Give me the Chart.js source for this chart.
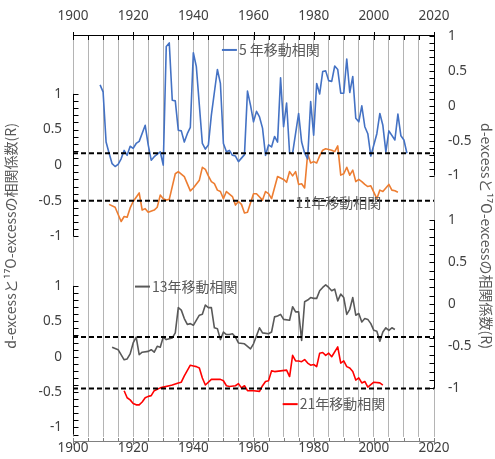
<!DOCTYPE html>
<html><head><meta charset="utf-8">
<script src="https://cdn.jsdelivr.net/npm/chart.js@4.4.0/dist/chart.umd.min.js"></script>
<style>html,body{margin:0;padding:0;background:#fff;}</style>
</head><body>
<canvas id="c" width="495" height="459" style="display:block;width:495px;height:459px"></canvas>
<script>
// ---------------- DATA ----------------
const years5 = [1909,1910,1911,1912,1913,1914,1915,1916,1917,1918,1919,1920,1921,1922,1924,1925,1926,1927,1929,1930,1931,1932,1933,1934,1935,1936,1937,1938,1939,1940,1941,1942,1943,1944,1945,1946,1948,1949,1950,1951,1952,1953,1954,1955,1957,1958,1959,1960,1961,1962,1963,1964,1965,1966,1967,1968,1969,1970,1971,1972,1973,1975,1976,1977,1978,1979,1980,1981,1982,1983,1984,1985,1986,1987,1988,1989,1990,1991,1992,1993,1994,1995,1996,1997,1998,1999,2001,2002,2003,2004,2005,2007,2008,2009,2010,2011];
const r5 = [0.30,0.20,-0.52,-0.68,-0.83,-0.87,-0.84,-0.76,-0.64,-0.71,-0.58,-0.61,-0.54,-0.51,-0.28,-0.56,-0.78,-0.73,-0.66,-0.85,0.85,0.90,0.08,0.07,-0.35,-0.36,-0.52,-0.40,-0.31,0.76,0.56,0.01,-0.54,-0.62,-0.56,-0.13,0.52,0.32,-0.54,-0.66,-0.64,-0.71,-0.72,-0.80,-0.70,0.21,0.01,-0.23,-0.08,-0.16,-0.32,-0.71,-0.56,-0.59,-0.44,-0.52,0.40,-0.30,0.04,-0.68,-0.68,-0.11,-0.52,-0.68,-0.76,0.06,-0.42,0.32,0.17,0.49,0.50,0.36,0.35,0.57,0.52,0.18,0.18,0.67,0.19,0.42,-0.18,-0.23,0.00,-0.30,-0.40,-0.72,-0.40,-0.11,-0.28,-0.66,-0.36,-0.49,-0.12,-0.43,-0.49,-0.68];

const years11 = [1912,1914,1916,1917,1918,1919,1920,1922,1923,1924,1925,1927,1928,1929,1930,1931,1932,1934,1935,1937,1939,1940,1942,1943,1944,1945,1946,1947,1948,1949,1950,1951,1953,1954,1955,1956,1957,1958,1959,1960,1961,1963,1964,1965,1966,1968,1970,1971,1972,1973,1974,1975,1976,1977,1978,1979,1980,1981,1982,1983,1984,1986,1987,1988,1989,1990,1991,1992,1993,1994,1995,1996,1997,1998,1999,2001,2002,2003,2004,2005,2006,2007,2008];
const r11 = [-0.55,-0.59,-0.79,-0.72,-0.73,-0.60,-0.51,-0.39,-0.63,-0.61,-0.66,-0.63,-0.59,-0.42,-0.47,-0.49,-0.48,-0.12,-0.09,-0.16,-0.36,-0.32,-0.21,-0.03,-0.06,-0.15,-0.23,-0.26,-0.35,-0.37,-0.47,-0.37,-0.44,-0.56,-0.51,-0.55,-0.67,-0.66,-0.53,-0.40,-0.40,-0.49,-0.37,-0.40,-0.47,-0.16,-0.20,-0.24,-0.09,-0.15,-0.09,-0.27,-0.26,-0.32,0.16,0.03,0.05,0.03,0.13,0.21,0.23,0.21,0.19,0.27,-0.14,-0.12,-0.03,-0.14,-0.07,-0.23,-0.20,-0.23,-0.27,-0.30,-0.29,-0.47,-0.35,-0.37,-0.32,-0.27,-0.35,-0.36,-0.38];

const years13 = [1913,1915,1917,1918,1919,1920,1921,1922,1923,1925,1926,1927,1928,1929,1930,1931,1933,1934,1935,1936,1937,1938,1939,1940,1942,1943,1944,1945,1946,1947,1948,1949,1950,1951,1952,1953,1954,1955,1957,1959,1960,1962,1963,1965,1966,1967,1968,1969,1970,1972,1973,1974,1975,1976,1977,1978,1979,1980,1981,1982,1983,1984,1985,1986,1987,1988,1989,1990,1991,1992,1993,1994,1995,1996,1997,1998,1999,2000,2001,2002,2003,2004,2005,2006,2007];
const r13 = [-0.51,-0.54,-0.66,-0.65,-0.59,-0.46,-0.39,-0.60,-0.57,-0.56,-0.54,-0.57,-0.50,-0.51,-0.39,-0.42,-0.40,-0.34,-0.04,-0.07,-0.17,-0.24,-0.23,-0.25,-0.13,-0.12,-0.01,-0.04,-0.04,-0.28,-0.29,-0.42,-0.33,-0.36,-0.36,-0.35,-0.39,-0.46,-0.47,-0.53,-0.47,-0.28,-0.34,-0.35,-0.33,-0.15,-0.14,-0.12,-0.18,-0.19,-0.03,-0.09,-0.09,-0.43,0.03,0.05,0.08,0.07,0.07,0.16,0.20,0.23,0.20,0.16,0.18,0.04,0.12,0.08,-0.12,-0.06,0.08,-0.13,-0.11,-0.21,-0.17,-0.18,-0.23,-0.31,-0.32,-0.44,-0.33,-0.28,-0.31,-0.28,-0.30];

const years21 = [1917,1918,1919,1920,1921,1922,1923,1924,1925,1926,1927,1929,1930,1932,1933,1935,1936,1937,1939,1940,1941,1942,1943,1944,1946,1948,1949,1950,1951,1952,1954,1955,1956,1957,1958,1960,1962,1963,1964,1965,1966,1967,1969,1971,1972,1973,1974,1975,1976,1977,1978,1979,1980,1981,1982,1983,1984,1985,1986,1988,1989,1990,1991,1992,1993,1994,1995,1996,1997,1998,2000,2002,2003];
const r21 = [-0.48,-0.58,-0.61,-0.66,-0.68,-0.68,-0.64,-0.58,-0.56,-0.55,-0.48,-0.44,-0.43,-0.41,-0.40,-0.37,-0.36,-0.27,-0.12,-0.13,-0.14,-0.16,-0.30,-0.40,-0.32,-0.32,-0.32,-0.34,-0.41,-0.42,-0.41,-0.38,-0.44,-0.41,-0.48,-0.48,-0.49,-0.41,-0.35,-0.34,-0.20,-0.21,-0.20,-0.19,-0.28,0.02,-0.06,-0.06,-0.07,-0.04,-0.09,-0.12,-0.11,-0.14,0.05,0.06,0.02,0.05,0.00,0.14,-0.09,-0.06,-0.14,-0.16,-0.21,-0.33,-0.30,-0.37,-0.35,-0.43,-0.36,-0.37,-0.40];

// significance lines (value on each series' own axis)
const thresholds = {r5: -0.68, r11: -0.50, r13: -0.39, r21: -0.45};
const seriesNames = ['5 年移動相関','11年移動相関','13年移動相関','21年移動相関'];
const xTickValues = [1900,1920,1940,1960,1980,2000,2020];
const yTickValues = [1, 0.5, 0, -0.5, -1];
const yTickLabels = ['1','0.5','0','-0.5','-1'];
const axisTitle = 'd-excessと\u00B9\u2077O-excessの相関係数(R)';

// ---------------- LAYOUT ----------------
const W = 495, H = 459, T = 35, B = 441, L = 73, R = 434;
// pixel rows of +1 and -1 for each of the four value axes
const AX = { yLT:[94.5,238.5], yLB:[288.5,431.5], yRT:[36,177], yRB:[222,392] };
function rng(id){const [p1,m1]=AX[id];const k=(m1-p1)/2;return {min:-1-(B-m1)/k,max:1+(p1-T)/k};}
function pix(id,v){const [p1,m1]=AX[id];const k=(m1-p1)/2;return p1+(1-v)*k;}
function val(id,p){const [p1,m1]=AX[id];const k=(m1-p1)/2;return 1-(p-p1)/k;}
function crossTicks(main, other){
  const t=[];
  yTickValues.forEach((v,i)=>t.push({value:v,label:yTickLabels[i]}));
  yTickValues.forEach((v,i)=>t.push({value:val(main,pix(other,v)),label:yTickLabels[i]}));
  return t;
}
const leftTicks = crossTicks('yLT','yLB');
const rightTicks = crossTicks('yRT','yRB');

const pts = (xs,ys)=>xs.map((x,i)=>({x:x,y:ys[i]}));
const hline = v=>[{x:1900,y:v},{x:2020,y:v}];
const numFont = {family:'"Noto Sans", "Liberation Sans", sans-serif', size:13.5};
const jpFont = '"Noto Sans CJK JP", "Noto Sans", sans-serif';
const txtCol = '#404040';

const dashed = (id,v)=>({data:hline(v),yAxisID:id,borderColor:'#000',borderWidth:2,borderDash:[5,3],pointRadius:0,fill:false});
const line = (label,xs,ys,id,col)=>({label:label,data:pts(xs,ys),yAxisID:id,borderColor:col,borderWidth:1.6,pointRadius:0,fill:false,tension:0,borderJoinStyle:'round'});

// legends anchored in data coordinates
const legends = [
  {text:seriesNames[0], axis:'yRT', x:1949.5, y:0.80, color:'#4472C4', sample:true},
  {text:seriesNames[1], axis:'yLT', x:1974, y:-0.53, color:'#ED7D31', sample:false},
  {text:seriesNames[2], axis:'yRB', x:1920.6, y:0.21, color:'#595959', sample:true},
  {text:seriesNames[3], axis:'yLB', x:1969.7, y:-0.67, color:'#FF0000', sample:true}
];

const deco = {
  id:'deco',
  afterDatasetsDraw(chart){
    const ctx=chart.ctx, sx=chart.scales.x, s=chart.scales;
    ctx.save();
    // top axis
    ctx.strokeStyle='#000'; ctx.lineWidth=1;
    ctx.beginPath(); ctx.moveTo(sx.getPixelForValue(1900),T+0.5); ctx.lineTo(sx.getPixelForValue(2020),T+0.5);
    for(let v=1900; v<=2020; v+=5){const p=Math.round(sx.getPixelForValue(v))+0.5;const mj=v%20===0;ctx.moveTo(p,T-(mj?3:0));ctx.lineTo(p,T+5);}
    ctx.stroke();
    // bottom axis
    ctx.strokeStyle='#808080';
    ctx.beginPath(); ctx.moveTo(sx.getPixelForValue(1900),B+0.5); ctx.lineTo(sx.getPixelForValue(2020),B+0.5);
    for(let v=1900; v<=2020; v+=5){const p=Math.round(sx.getPixelForValue(v))+0.5;const mj=v%20===0;ctx.moveTo(p,B-3);ctx.lineTo(p,B+(mj?4:0));}
    ctx.stroke();
    // value axis segments
    const seg=(id,x,dir,from,to)=>{
      const sc=s[id]; ctx.strokeStyle='#000'; ctx.beginPath();
      ctx.moveTo(x,sc.getPixelForValue(from)); ctx.lineTo(x,sc.getPixelForValue(to));
      for(let i=Math.round(from*10); i>=Math.round(to*10); i--){const p=Math.round(sc.getPixelForValue(i/10))+0.5;ctx.moveTo(x,p);ctx.lineTo(x+dir*5,p);}
      ctx.stroke();
    };
    seg('yLT',L+0.5,1,1,-1);
    seg('yLB',L+0.5,1,1,-1.1);
    seg('yRT',R+0.5,-1,1,-1);
    seg('yRB',R+0.5,-1,1,-1);
    // legends
    ctx.font='14px '+jpFont; ctx.textBaseline='middle'; ctx.textAlign='left';
    legends.forEach(lg=>{
      const x=sx.getPixelForValue(lg.x), y=s[lg.axis].getPixelForValue(lg.y);
      let tx=x;
      if(lg.sample){ctx.strokeStyle=lg.color;ctx.lineWidth=2;ctx.beginPath();ctx.moveTo(x,y);ctx.lineTo(x+15,y);ctx.stroke();tx=x+17;}
      ctx.fillStyle='#595959'; ctx.fillText(lg.text,tx,y);
    });
    ctx.restore();
  }
};

const yAxisBase = (id,pos,display,ticks)=>{
  const o = {
    type:'linear', position:pos, display:display, min:rng(id).min, max:rng(id).max,
    grid:{display:false,drawTicks:false}, border:{display:false}
  };
  if(display){
    o.afterBuildTicks = sc=>{sc.ticks=ticks.map(t=>({value:t.value}));};
    o.ticks = {autoSkip:false, padding: pos==='left'?11:14, color:txtCol, font:numFont, callback:(v,i)=>ticks[i]?ticks[i].label:''};
    o.afterFit = sc=>{ sc.width = (pos==='left') ? L : W-R; };
    o.title = {display:true, text:axisTitle, color:'#595959', font:{family:jpFont,size:14}, padding:{top: pos==='left'?2:0, bottom:0}};
  }
  return o;
};

new Chart(document.getElementById('c'),{
  type:'line',
  data:{datasets:[
    dashed('yRT',thresholds.r5), dashed('yLT',thresholds.r11), dashed('yRB',thresholds.r13), dashed('yLB',thresholds.r21),
    line(seriesNames[0],years5,r5,'yRT','#4472C4'),
    line(seriesNames[1],years11,r11,'yLT','#ED7D31'),
    line(seriesNames[2],years13,r13,'yRB','#595959'),
    line(seriesNames[3],years21,r21,'yLB','#FF0000')
  ]},
  options:{
    responsive:false, animation:false, devicePixelRatio:1,
    layout:{padding:0},
    plugins:{legend:{display:false}, tooltip:{enabled:false}},
    scales:{
      x:{type:'linear', position:'top', min:1900, max:2020,
         ticks:{stepSize:5, autoSkip:false, maxRotation:0, padding:11, color:txtCol, font:numFont, callback:v=>xTickValues.includes(v)?String(v):''},
         grid:{color:'#b4b4b4', lineWidth:1, drawTicks:false}, border:{display:false},
         afterFit: sc=>{sc.height=T;}},
      x2:{type:'linear', position:'bottom', min:1900, max:2020,
         ticks:{stepSize:5, autoSkip:false, maxRotation:0, padding:3, color:txtCol, font:numFont, callback:v=>xTickValues.includes(v)?String(v):''},
         grid:{drawOnChartArea:false, drawTicks:false}, border:{display:false},
         afterFit: sc=>{sc.height=H-B;}},
      yLT: yAxisBase('yLT','left',true,leftTicks),
      yRT: yAxisBase('yRT','right',true,rightTicks),
      yLB: yAxisBase('yLB','left',false,null),
      yRB: yAxisBase('yRB','right',false,null)
    }
  },
  plugins:[deco]
});
</script>
</body></html>
